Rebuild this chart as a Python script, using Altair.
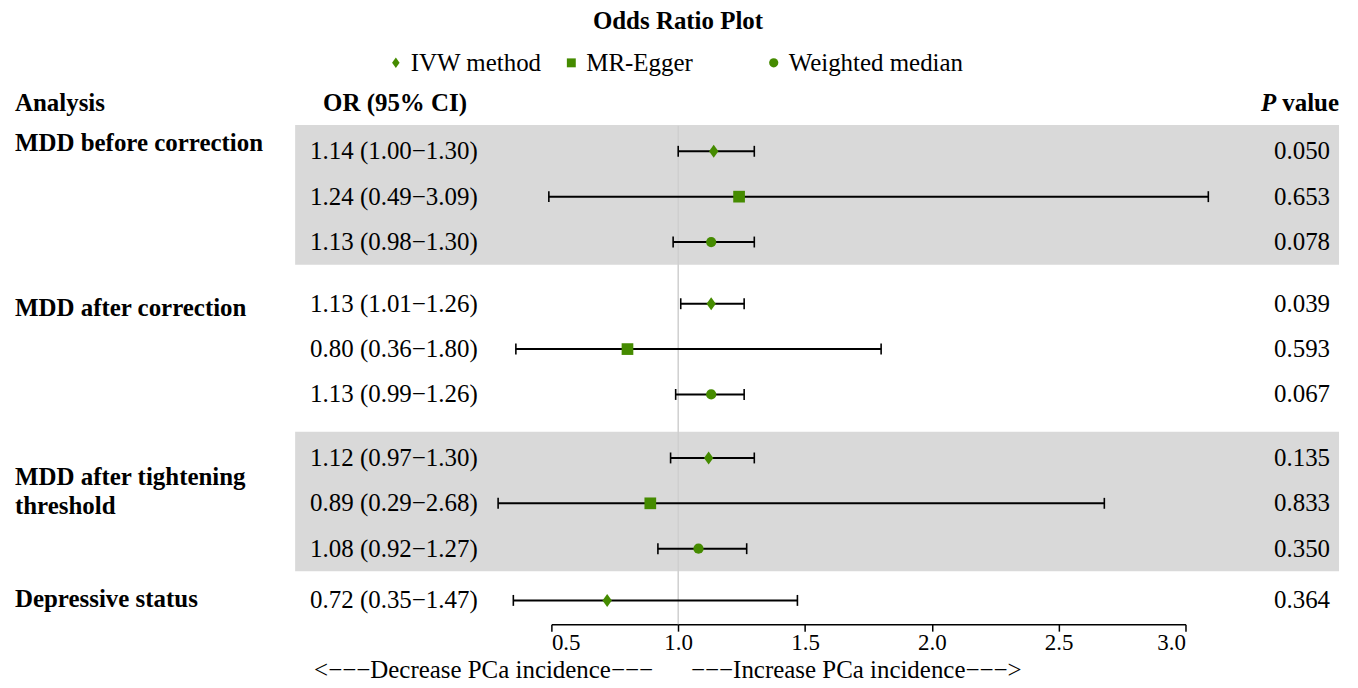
import altair as alt
import pandas as pd

SERIF = "'Liberation Serif', 'Times New Roman', Times, serif"
GREEN = "#458B00"

# ---------------- data ----------------
groups = ["MDD before correction", "MDD after correction",
          "MDD after tightening\nthreshold", "Depressive status"]
row_group = [0, 0, 0, 1, 1, 1, 2, 2, 2, 3]
methods_list = ["IVW method", "MR-Egger", "Weighted median"]
row_method = ["IVW method", "MR-Egger", "Weighted median",
              "IVW method", "MR-Egger", "Weighted median",
              "IVW method", "MR-Egger", "Weighted median",
              "IVW method"]
or_vals = [1.14, 1.24, 1.13, 1.13, 0.80, 1.13, 1.12, 0.89, 1.08, 0.72]
lo_vals = [1.00, 0.49, 0.98, 1.01, 0.36, 0.99, 0.97, 0.29, 0.92, 0.35]
hi_vals = [1.30, 3.09, 1.30, 1.26, 1.80, 1.26, 1.30, 2.68, 1.27, 1.47]
p_vals = ["0.050", "0.653", "0.078", "0.039", "0.593", "0.067",
          "0.135", "0.833", "0.350", "0.364"]
shaded_groups = [0, 2]
x_ticks = [0.5, 1.0, 1.5, 2.0, 2.5, 3.0]

# ---------------- layout ----------------
W, H = 636, 500
GROUP_GAP = [0.36, 0.40, 0.14]          # extra spacing between groups (row units)
LABEL_DY = [-8, 4, 19, -1]               # group label offsets (px)
LEGEND_X = [-156, 20, 223]

def row_pos(i):
    g = row_group[i]
    return i + sum(GROUP_GAP[:g])

rows = pd.DataFrame({
    "pos": [row_pos(i) for i in range(len(or_vals))],
    "method": row_method,
    "or": or_vals, "lo": lo_vals, "hi": hi_vals,
    "p": p_vals,
    "ci": [f"{o:.2f} ({l:.2f}\u2212{h:.2f})" for o, l, h in zip(or_vals, lo_vals, hi_vals)],
})

first_pos = {}
last_pos = {}
for i, g in enumerate(row_group):
    first_pos.setdefault(g, row_pos(i))
    last_pos[g] = row_pos(i)

labels = pd.DataFrame({
    "label": groups,
    "pos": [first_pos[g] for g in range(len(groups))],
    "dy": LABEL_DY,
})
bands = pd.DataFrame({
    "y0": [first_pos[g] - 0.58 for g in shaded_groups],
    "y1": [last_pos[g] + 0.5 for g in shaded_groups],
})

xscale = alt.Scale(domain=[0.5, 3.0], nice=False, zero=False)
yscale = alt.Scale(domain=[-0.565, 10.424], nice=False, zero=False, reverse=True)
shape_scale = alt.Scale(domain=methods_list,
                        range=["M0,-1L0.72,0L0,1L-0.72,0Z", "square", "circle"])
size_scale = alt.Scale(domain=methods_list, range=[170, 105, 110])

X = alt.X("lo:Q", scale=xscale, axis=alt.Axis(
    values=x_ticks, format=".1f", labelFont=SERIF, labelFontSize=23,
    labelColor="black", domainColor="black", domainWidth=1.5,
    tickColor="black", tickWidth=1.5, tickSize=7, labelPadding=0,
    grid=False, title=None))
Y = alt.Y("pos:Q", scale=yscale, axis=None)

band_layer = alt.Chart(bands).mark_rect(color="#d9d9d9").encode(
    x=alt.value(-257), x2=alt.value(790),
    y=alt.Y("y0:Q", scale=yscale, axis=None), y2="y1:Q")

ref_layer = alt.Chart(pd.DataFrame({"v": [1.0]})).mark_rule(
    color="#cfcfcf", strokeWidth=1.5).encode(
    x=alt.X("v:Q", scale=xscale))

err_layer = alt.Chart(rows).mark_rule(color="black", strokeWidth=2).encode(
    x=X, x2="hi:Q", y=Y)

cap_lo = alt.Chart(rows).mark_point(
    shape="M0,-1L0,1", size=120, stroke="black", strokeWidth=1.6,
    filled=False, opacity=1).encode(x=alt.X("lo:Q", scale=xscale), y=Y)
cap_hi = alt.Chart(rows).mark_point(
    shape="M0,-1L0,1", size=120, stroke="black", strokeWidth=1.6,
    filled=False, opacity=1).encode(x=alt.X("hi:Q", scale=xscale), y=Y)

pt_layer = alt.Chart(rows).mark_point(filled=True, opacity=1, color=GREEN).encode(
    x=alt.X("or:Q", scale=xscale), y=Y,
    shape=alt.Shape("method:N", scale=shape_scale, legend=None),
    size=alt.Size("method:N", scale=size_scale, legend=None))

ci_text = alt.Chart(rows).mark_text(
    align="left", baseline="middle", font=SERIF, fontSize=25, color="black").encode(
    x=alt.value(-242), y=Y, text="ci:N")
p_text = alt.Chart(rows).mark_text(
    align="right", baseline="middle", font=SERIF, fontSize=25, color="black").encode(
    x=alt.value(781), y=Y, text="p:N")

grp_layers = []
for _, r in labels.iterrows():
    grp_layers.append(
        alt.Chart(pd.DataFrame([r])).mark_text(
            align="left", baseline="middle", font=SERIF, fontSize=25,
            fontWeight="bold", color="black", lineBreak="\n", lineHeight=29,
            dy=float(r["dy"])).encode(x=alt.value(-538), y=Y, text="label:N"))

def fixed_text(txt, x, y, align="left", weight="normal", style="normal", size=25):
    return alt.Chart(pd.DataFrame({"t": [txt]})).mark_text(
        align=align, baseline="middle", font=SERIF, fontSize=size,
        fontWeight=weight, fontStyle=style, color="black").encode(
        x=alt.value(x), y=alt.value(y), text="t:N")

title = fixed_text("Odds Ratio Plot", 127, -105, align="center", weight="bold")
h1 = fixed_text("Analysis", -538, -23, weight="bold")
h2 = fixed_text("OR (95% CI)", -229, -23, weight="bold")
h3 = fixed_text("value", 790, -23, align="right", weight="bold")
h4 = fixed_text("P", 727, -23, align="right", weight="bold", style="italic")
b1 = fixed_text("<\u2212\u2212\u2212Decrease PCa incidence\u2212\u2212\u2212", 102, 546, align="right")
b2 = fixed_text("\u2212\u2212\u2212Increase PCa incidence\u2212\u2212\u2212>", 140, 546, align="left")

leg_layers = []
for m, lx, sz in zip(methods_list, LEGEND_X, [110, 80, 85]):
    d = pd.DataFrame({"method": [m]})
    leg_layers.append(alt.Chart(d).mark_point(filled=True, opacity=1, color=GREEN, size=sz).encode(
        x=alt.value(lx), y=alt.value(-63),
        shape=alt.Shape("method:N", scale=shape_scale, legend=None)))
    leg_layers.append(alt.Chart(d).mark_text(
        align="left", baseline="middle", font=SERIF, fontSize=25, color="black").encode(
        x=alt.value(lx + 15), y=alt.value(-63), text="method:N"))

chart = alt.layer(
    band_layer, ref_layer, err_layer, cap_lo, cap_hi, pt_layer,
    ci_text, p_text, *grp_layers, title, h1, h2, h3, h4, b1, b2, *leg_layers
).properties(
    width=W, height=H,
    autosize=alt.AutoSizeParams(type="none"),
    padding={"left": 545, "top": 117, "right": 165, "bottom": 62},
    background="white",
).configure_view(strokeWidth=0)

chart.save("out.html", embed_options={"renderer": "svg", "actions": False})
